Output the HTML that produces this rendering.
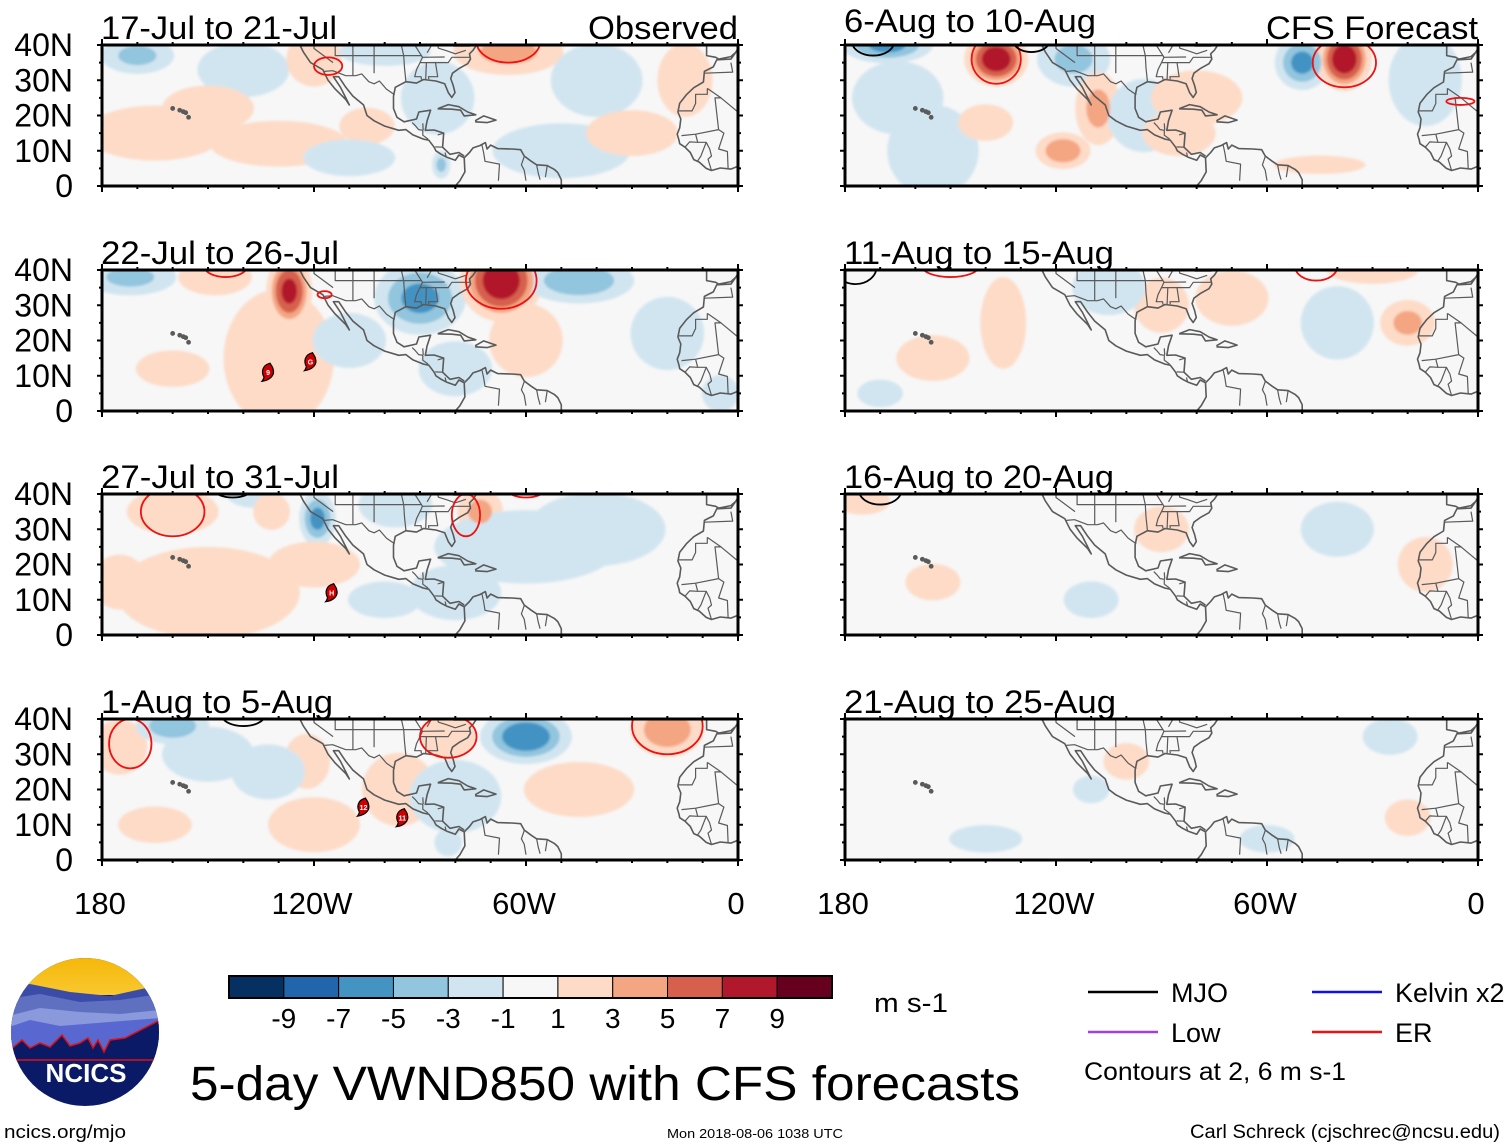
<!DOCTYPE html>
<html><head><meta charset="utf-8">
<style>
html,body{margin:0;padding:0;background:#fff;}
svg{display:block;font-family:"Liberation Sans",Arial,sans-serif;}
</style></head>
<body>
<svg id="fig" width="1510" height="1147" viewBox="0 0 1510 1147" xmlns="http://www.w3.org/2000/svg">
<defs>
<linearGradient id="sky" x1="0" y1="0" x2="0" y2="1"><stop offset="0" stop-color="#f5b400"/><stop offset="1" stop-color="#f8c830"/></linearGradient>
<clipPath id="logoClip"><ellipse cx="85" cy="1032" rx="74" ry="74"/></clipPath>
<filter id="soft" x="-5%" y="-5%" width="110%" height="110%"><feGaussianBlur stdDeviation="1.2"/></filter>
</defs>
<g id="panels"></g>
<g id="legendArea"></g>
</svg>
<script>
// ---- data ----
var panelTitles = ["17-Jul to 21-Jul","22-Jul to 26-Jul","27-Jul to 31-Jul","1-Aug to 5-Aug","6-Aug to 10-Aug","11-Aug to 15-Aug","16-Aug to 20-Aug","21-Aug to 25-Aug"];
var latTicks = [40,30,20,10,0];
var latLabels = ["40N","30N","20N","10N","0"];
var lonTicks = [-180,-120,-60,0];
var lonLabels = ["180","120W","60W","0"];
var cbValues = [-9,-7,-5,-3,-1,1,3,5,7,9];
var cbColors = ["#053061","#2166ac","#4393c3","#92c5de","#d1e5f0","#f7f7f7","#fddbc7","#f4a582","#d6604d","#b2182b","#67001f"];
// anomaly centres: [lon, lat, peak m/s, radius lon deg, radius lat deg]
var anom0 = [[-170,37,-4,8,4],[-140,33,-2,10,6],[-120,36,3,6,6],[-65,38,4,12,5],[-85,25,-2,8,8],[-165,15,1.5,15,6],[-130,12,1.5,15,5],[-40,30,-2,10,8],[-15,30,2,6,8],[-84,6,-4,2,3],[-100,38,-2,10,3],[-50,10,-1.5,15,6],[-30,15,1.5,10,5],[-105,17,1.5,6,4],[-150,22,1.5,10,5],[-110,8,-1.5,10,4]];
var anom1 = [[-172,38,-4,10,4],[-148,38,2,8,4],[-127,34,8,5,8],[-130,15,1.5,12,15],[-90,32,-6,10,8],[-67,37,9,9,9],[-45,37,-5,12,5],[-20,22,-1.5,8,8],[-80,12,-1.5,8,6],[-5,5,-3,4,4],[-160,12,1.5,8,4],[-110,20,-1.5,8,6],[-60,20,1.5,8,8]];
var anom2 = [[-160,35,3,10,5],[-137,40,-2,6,3],[-132,35,3,4,4],[-119,33,-6,4,6],[-97,37,-2,8,5],[-73,35,4,5,5],[-150,12,1.5,20,10],[-60,25,-2,20,8],[-40,30,-1.5,15,8],[-120,20,1.5,10,5],[-80,12,-1.5,10,6],[-175,15,1.5,6,6],[-100,10,-1.5,8,4]];
var anom3 = [[-175,32,2,6,6],[-160,38,-5,8,4],[-150,30,-2,10,6],[-122,28,2,5,6],[-133,25,-1.5,8,6],[-96,20,1.5,8,8],[-82,35,3,6,5],[-60,35,-7,10,6],[-20,37,5,8,6],[-80,18,-1.5,10,8],[-45,20,1.5,12,6],[-82,5,-3,3,3],[-120,10,1.5,10,6],[-165,10,1.3,8,4]];
var anom4 = [[-168,40,-6,10,4],[-137,36,9,7,6],[-115,36,-4,8,6],[-108,22,4,5,8],[-95,20,-1.5,8,8],[-118,10,5,6,4],[-85,15,1.5,8,5],[-50,35,-6,6,6],[-38,36,9,6,7],[-15,30,-2,8,10],[-45,6,3,10,2],[-80,25,1.5,10,6],[-155,10,-1.5,10,10],[-165,25,-1.5,10,8],[-140,18,1.5,6,4]];
var anom5 = [[-135,25,2,5,10],[-155,15,1.5,8,5],[-90,30,2,6,6],[-30,40,2,10,3],[-20,25,4,6,5],[-40,25,-1.5,8,8],[-105,35,-1.5,8,6],[-70,32,1.5,8,6],[-170,5,-1.5,5,3]];
var anom6 = [[-175,38,2,6,3],[-155,15,1.5,6,4],[-90,30,1.5,6,5],[-40,30,-1.5,8,6],[-15,20,1.5,6,6],[-110,10,-1.5,6,4]];
var anom7 = [[-25,35,-1.5,6,4],[-60,6,-1.5,6,3],[-100,28,1.2,5,4],[-20,12,1.5,5,4],[-110,20,-1.3,4,3],[-140,6,-1.5,8,3]];
var anomAll = [anom0,anom1,anom2,anom3,anom4,anom5,anom6,anom7];
// wave contours: [lon, lat, rx deg, ry deg, type]
var cont = [
 [[-116,34,4,2.5,"ER"],[-65,41,9,6,"ER"]],
 [[-67,37,10,8,"ER"],[-145,41,6,3,"ER"],[-117,33,2,1,"ER"]],
 [[-160,35,9,7,"ER"],[-143,41,5,2,"MJO"],[-77,34,4,6,"ER"],[-60,41,5,2,"ER"]],
 [[-172,33,6,7,"ER"],[-140,41,6,3,"MJO"],[-82,35,8,6,"ER"],[-20,38,10,8,"ER"]],
 [[-137,36,7,7,"ER"],[-172,41,6,4,"MJO"],[-127,41,5,3,"MJO"],[-38,35,9,7,"ER"],[-5,24,4,1,"ER"]],
 [[-177,41,6,5,"MJO"],[-150,41,8,3,"ER"],[-46,41,6,4,"ER"]],
 [[-170,41,6,4,"MJO"]],
 []
];
var storms = [[],[[-133,11,"9"],[-121,14,"G"]],[[-115,12,"H"]],[[-106,15,"12"],[-95,12,"11"]],[],[],[],[]];
// coastlines [lon,lat]
var coastNA = [[-124,40],[-123,38],[-121,35],[-117.5,33],[-116,30],[-114,27.5],[-111,24.5],[-110,23],[-111,25],[-112.5,28],[-114.5,31],[-113,31],[-111,28],[-109,25.5],[-106,23],[-105,20],[-103,18.5],[-100,17],[-96,15.8],[-94,16],[-92,14.5],[-89,13.3],[-87.5,13],[-86,11],[-85.5,10],[-84,9],[-82.5,8.2],[-80,7.3],[-79,8.8],[-77.5,8],[-77.3,4],[-78.7,1.5],[-80,0]];
var coastGulf = [[-77.5,8.5],[-79,9.5],[-81.5,9],[-83.6,11],[-83.3,15],[-86,15.9],[-88.5,15.8],[-88,18.5],[-87,21.5],[-90.3,21],[-91,19],[-94.5,18.2],[-96.5,19.5],[-97.5,22],[-97.5,25.5],[-97,28],[-94,29.6],[-91,29.2],[-89,30.2],[-85.5,29.8],[-83,29],[-82,26.5],[-81,25.1],[-80.1,26.5],[-80.6,28.5],[-81.3,30.5],[-80.8,32],[-79,33.3],[-76.5,34.7],[-75.7,36],[-76,37.5],[-75,38.5],[-74,40],[-72,41]];
var coastSA = [[-77.5,8],[-76,9.5],[-75,10.8],[-73,11.5],[-71.5,12.3],[-71,10.5],[-70,11.6],[-68,10.6],[-64,10.5],[-61.5,10.3],[-60.5,8.5],[-58.5,7],[-57,6],[-54,5.8],[-52,4.7],[-51,3.8],[-50,1.8],[-50,0]];
var coastCuba = [[-85,21.9],[-82,23.1],[-79,22.5],[-76.5,21],[-74.2,20.2],[-77.5,19.9],[-78.5,21.5],[-81,21.8],[-85,21.9]];
var coastHisp = [[-74.4,18.5],[-72,19.9],[-68.5,18.7],[-71,18],[-74.4,18.2]];
var coastAfr = [[-8.9,41],[-8.9,37],[-6.3,36.5],[-5.5,36],[-2,36.7],[0,38.5],[0,39],[-1,37.4],[-2,36],[-6,35.8],[-7,33.8],[-9.5,32.5],[-9.8,29.5],[-12.5,27.9],[-14.5,26],[-16.5,23.5],[-17,21],[-16.2,19],[-16.5,16.5],[-17.2,14.7],[-16.7,13],[-16.5,12],[-15,11],[-13.5,9.5],[-12.5,7.5],[-11,6.8],[-9,5],[-7.5,4.4],[-5,5.1],[-2,4.8],[0,5.6]];
var borders = [
 [[-117.1,32.5],[-114.7,32.7],[-111,31.3],[-108.2,31.3],[-106.5,31.8],[-104.5,29.6],[-103,29],[-101.5,29.8],[-99.5,27.5],[-97.2,25.9]],
 [[-120,40],[-120,39],[-114.6,35]],[[-114,40],[-114,37],[-109,37],[-103,37],[-94.6,37],[-89.5,37]],
 [[-109,40],[-109,31.3]],[[-103,40],[-103,32]],[[-95.3,40],[-94.6,37],[-94.4,33.5],[-94,29.7]],
 [[-91.5,40],[-89.3,36.5],[-90,35],[-91,33],[-91.5,31],[-89.7,31],[-89.6,30.2]],[[-88.2,35],[-88.4,30.3]],[[-85.6,35],[-85,31],[-87.6,31],[-87.5,30.3]],
 [[-90,35],[-82,35],[-81,36.5],[-75.7,36.5]],[[-83,36.6],[-89.5,36.5]],[[-80.5,40],[-80.5,39.7],[-75.8,39.7]],[[-85,40],[-84.8,39.1],[-82.6,38.4],[-80,37.5],[-77,38.5]],
 [[-86.7,40],[-88,37.8]],[[-92.2,18],[-91.4,17.2],[-90.4,16],[-89.2,15.8],[-89.2,14.4],[-87.7,13.3]],[[-89.2,17.8],[-89.1,15.9]],[[-85,14.5],[-83.2,15]],[[-85.7,11.1],[-83.6,11]],[[-82.9,9.5],[-82.6,8.3]],
 [[-72.5,11.8],[-72,9.5],[-71.6,7],[-67.5,6.2],[-67.8,1.5]],[[-60.5,8.3],[-61.3,6],[-60.5,4.5],[-60,1.5]],[[-57,6],[-56.5,3.5],[-56,1.8]],[[-54,5.7],[-54.5,2.5]],
 [[-8.7,27.7],[-8.7,26],[-12,26],[-12,23.4],[-13,21.3],[-17,21.3]],[[-8.7,27.7],[-4.8,25],[-6.5,25],[-5.5,16],[-12,14.7],[-16,14.3]],[[-12,14.7],[-11.4,12.4],[-13.7,12.5],[-15,11]],[[-11.4,12.4],[-9,12.4],[-8,10.5],[-7.5,8.5],[-8.5,7.6],[-7.5,4.4]],[[-5.5,16],[-4,15],[-5.5,10.5],[-3,9.8],[-2.8,5]],[[-9,12.4],[-10.5,8.5],[-11.5,7]],[[-9.5,32],[-1.5,32.3],[-2,35]],[[0,21],[-4.8,25]]
];
var hawaii = [[-160,22],[-158,21.5],[-157,21.1],[-156.3,20.8],[-155.5,19.5]];

// ---- geometry ----
var panelX = [102,102,102,102,845,845,845,845];
var panelY = [45,270,494,719,45,270,494,719];
var PW = [636,633], PH = 141;
var SPREAD = 1.3;
var NS = "http://www.w3.org/2000/svg";
function mk(tag, attrs, parent){var e=document.createElementNS(NS,tag);for(var k in attrs)e.setAttribute(k,attrs[k]);if(parent)parent.appendChild(e);return e;}
function xs(lon,w){return (lon+180)/180*w;}
function ys(lat){return (40-lat)/40*PH;}
function colorFor(t){
  var map={"-9":0,"-7":1,"-5":2,"-3":3,"-1":4,"1":6,"3":7,"5":8,"7":9,"9":10};
  return cbColors[map[String(t)]];
}
var thresholds=[1,3,5,7,9];
var root=document.getElementById('panels');
for(var p=0;p<8;p++){
  var w = p<4?PW[0]:PW[1];
  var g = mk('g',{transform:'translate('+panelX[p]+','+panelY[p]+')'},root);
  
  
  var cid='clip'+p;
  var cp=mk('clipPath',{id:cid},g); mk('rect',{x:0,y:0,width:w,height:PH},cp);
  var inner=mk('g',{'clip-path':'url(#'+cid+')'},g);
  mk('rect',{x:0,y:0,width:w,height:PH,fill:'#f7f7f7'},inner);
  var field=mk('g',{filter:'url(#soft)'},inner);
  
  
  var A=anomAll[p];
  for(var ti=0;ti<thresholds.length;ti++){
    var t=thresholds[ti];
    for(var i=0;i<A.length;i++){
      var a=A[i], v=Math.abs(a[2]);
      if(v<=t) continue;
      var f=t==1?1:Math.max(0.2,Math.sqrt((v-t)/(v-1))*0.9);
      var el=mk('ellipse',{cx:xs(a[0],w),cy:ys(a[1]),rx:a[3]/180*w*f*SPREAD,ry:a[4]/40*PH*f*SPREAD,fill:colorFor(a[2]<0?-t:t)},field);
      
      
    }
  }
  var coastG=mk('g',{fill:'none',stroke:'#5a5a5a','stroke-width':1.6,'stroke-linejoin':'round'},inner);
  
  
  var lines=[coastNA,coastGulf,coastSA,coastCuba,coastHisp,coastAfr].concat(borders);
  for(var l=0;l<lines.length;l++){
    var pts=lines[l].map(function(q){return xs(q[0],w).toFixed(1)+','+ys(q[1]).toFixed(1);}).join(' ');
    var pl=mk('polyline',{points:pts,'stroke-width':l>=6?1.2:1.6},coastG);
    
    
  }
  for(var h=0;h<hawaii.length;h++){
    mk('circle',{cx:xs(hawaii[h][0],w),cy:ys(hawaii[h][1]),r:1.6,fill:'#5a5a5a'},coastG);
  }
  var C=cont[p];
  for(var c=0;c<C.length;c++){
    var cc=C[c];
    var ce=mk('ellipse',{cx:xs(cc[0],w),cy:ys(cc[1]),rx:cc[2]/180*w,ry:cc[3]/40*PH,fill:'none',stroke:cc[4]=='ER'?'#ee1111':'#000','stroke-width':1.8},inner);
    
    
  }
  var S=storms[p];
  for(var s=0;s<S.length;s++){
    var sg=mk('g',{transform:'translate('+xs(S[s][0],w)+','+ys(S[s][1])+')'},inner);
    
    
    mk('path',{d:'M2,-9 C-6,-7 -7,0 -4,5 C-5,7 -5,8 -6,9 C2,8 7,3 5,-3 C5,-5 3,-7 2,-9Z',fill:'#cc0000',stroke:'#000','stroke-width':1.2},sg);
    var st=mk('text',{x:0,y:3,'font-size':7,'font-weight':'bold','text-anchor':'middle',fill:'#fff'},sg);
    st.textContent=S[s][2];
  }
  var fr=mk('rect',{x:0,y:0,width:w,height:PH,fill:'none',stroke:'#000','stroke-width':3},g);
  
  
  var tg=mk('g',{stroke:'#000','stroke-width':2},g);
  
  
  for(var lon=-180;lon<=0;lon+=10){
    var X=xs(lon,w), big=(lon%60==0);
    mk('line',{x1:X,y1:0,x2:X,y2:big?-6:-3},tg);
    mk('line',{x1:X,y1:PH,x2:X,y2:PH+(big?6:3)},tg);
  }
  for(var la=0;la<=40;la+=5){
    var Y=ys(la), big2=(la%10==0);
    mk('line',{x1:0,y1:Y,x2:big2?-5:-3,y2:Y},tg);
    mk('line',{x1:w,y1:Y,x2:w+(big2?5:3),y2:Y},tg);
  }
  if(p<4){
    for(var k=0;k<latTicks.length;k++){
      var lt=mk('text',{x:-29,y:ys(latTicks[k])+11,'font-size':32,'text-anchor':'end',fill:'#000'},g);
      
      
      lt.textContent=latLabels[k];
    }
  }
  var tt=mk('text',{x:-1,y:p==4?-13:-6,'font-size':32,fill:'#000'},g);
  
  
  tt.setAttribute('textLength',[236,238,238,232,252,270,270,272][p]);
  tt.setAttribute('lengthAdjust','spacingAndGlyphs');
  tt.textContent=panelTitles[p];
  if(p==0||p==4){
    var tr=mk('text',{x:w,y:-6,'font-size':32,'text-anchor':'end',fill:'#000'},g);
    
    
    tr.setAttribute('textLength',p==0?150:212);
    tr.setAttribute('lengthAdjust','spacingAndGlyphs');
    tr.textContent=p==0?'Observed':'CFS Forecast';
  }
  if(p==3||p==7){
    for(var m=0;m<lonTicks.length;m++){
      var lx=mk('text',{x:xs(lonTicks[m],w)-2,y:PH+54,'font-size':31,'text-anchor':'middle',fill:'#000'},g);
      
      
      lx.textContent=lonLabels[m];
    }
  }
}
// ---- colorbar and legend ----
var lg=document.getElementById('legendArea');
var cb=mk('g',{},lg);


var cbx=229, cbw=603/11;
for(var b=0;b<11;b++){
  var r=mk('rect',{x:cbx+b*cbw,y:976,width:cbw,height:22,fill:cbColors[b],stroke:'#000','stroke-width':1},cb);
  
  
}
mk('rect',{x:cbx,y:976,width:603,height:22,fill:'none',stroke:'#000','stroke-width':2},cb);
for(var b2=0;b2<cbValues.length;b2++){
  var cl=mk('text',{x:cbx+(b2+1)*cbw,y:1028,'font-size':28,'text-anchor':'middle',fill:'#000'},cb);
  
  
  cl.textContent=cbValues[b2];
}
function txt(x,y,s,size,name,anchor,len){
  var t=mk('text',{x:x,y:y,'font-size':size,fill:'#000','text-anchor':anchor||'start'},lg);
  
  
  if(len){t.setAttribute('textLength',len);t.setAttribute('lengthAdjust','spacingAndGlyphs');}
  t.textContent=s;return t;
}
txt(874,1012,'m s-1',27,'colorbar-units',null,74);
txt(190,1100,'5-day VWND850 with CFS forecasts',48,'figure-title',null,830);
txt(4,1138,'ncics.org/mjo',18,'website-label',null,122);
txt(755,1138,'Mon 2018-08-06 1038 UTC',13,'timestamp','middle',176);
txt(1500,1138,'Carl Schreck (cjschrec@ncsu.edu)',19,'author-label','end',310);
var legItems=[[1088,992,'#000','MJO'],[1312,992,'#1010ee','Kelvin x2'],[1088,1032,'#a040e0','Low'],[1312,1032,'#ee1111','ER']];
for(var q=0;q<legItems.length;q++){
  var L=legItems[q];
  var ln=mk('line',{x1:L[0],y1:L[1],x2:L[0]+70,y2:L[1],stroke:L[2],'stroke-width':2.5},lg);
  
  
  txt(L[0]+83,L[1]+10,L[3],27,'legend-entry-'+L[3].split(' ')[0].toLowerCase());
}
txt(1084,1080,'Contours at 2, 6 m s-1',25,'contour-note',null,262);
var logo=mk('g',{'clip-path':'url(#logoClip)'},lg);


mk('rect',{x:0,y:950,width:170,height:170,fill:'#0b1a66'},logo);
mk('rect',{x:0,y:950,width:170,height:45,fill:'url(#sky)'},logo);
mk('path',{d:'M0,990 L30,984 L70,992 L110,996 L160,985 L160,1040 L0,1040Z',fill:'#3a4ca8'},logo);
mk('path',{d:'M0,1000 L40,994 L80,1002 L120,1000 L160,994 L160,1040 L0,1040Z',fill:'#6070c0'},logo);
mk('path',{d:'M0,1018 L40,1008 L80,1012 L120,1014 L160,1010 L160,1050 L0,1050Z',fill:'#8a98dc'},logo);
mk('path',{d:'M0,1030 L30,1020 L60,1026 L160,1018 L160,1050 L0,1050Z',fill:'#5868d0'},logo);
mk('path',{d:'M10,1050 L22,1040 L30,1048 L40,1043 L50,1047 L62,1035 L70,1046 L80,1043 L88,1038 L93,1048 L98,1040 L104,1052 L110,1040 L125,1038 L160,1020 L160,1060 L10,1060Z',fill:'#0b1a66',stroke:'#e01010','stroke-width':1.5},logo);
var lt2=mk('text',{x:86,y:1082,'font-size':26,'font-weight':'bold','text-anchor':'middle',fill:'#fff'},logo);


lt2.textContent='NCICS';
</script>
</body></html>
